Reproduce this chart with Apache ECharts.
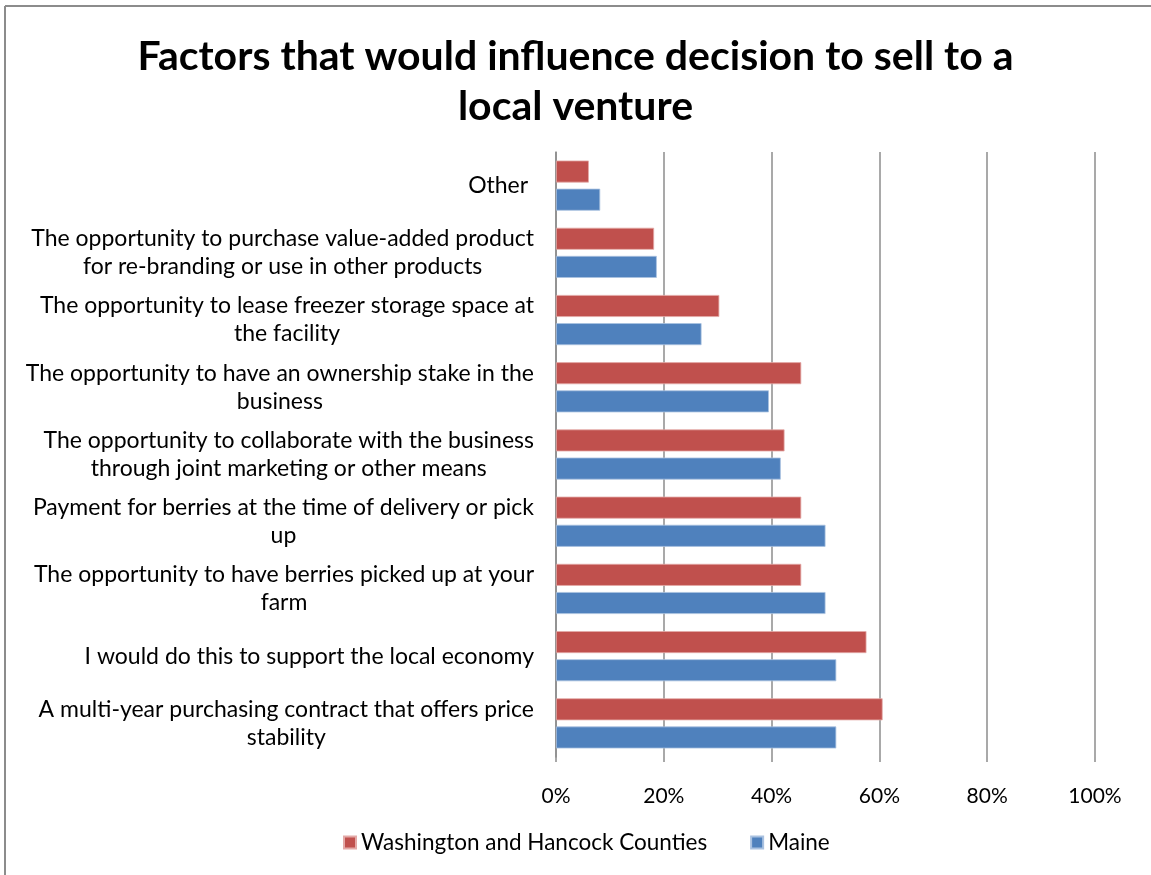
<!DOCTYPE html>
<html>
<head>
<meta charset="utf-8">
<script src="https://cdn.jsdelivr.net/npm/echarts@6/dist/echarts.min.js"></script>
<style>
  html, body { margin: 0; padding: 0; background: #ffffff; }
  #chart { width: 1151px; height: 875px; }
</style>
</head>
<body>
<div id="chart"></div>
<script>
// Survey answers, listed bottom to top as they appear on the category axis
const categories = [
  'A multi-year purchasing contract that offers price\nstability',
  'I would do this to support the local economy',
  'The opportunity to have berries picked up at your\nfarm',
  'Payment for berries at the time of delivery or pick\nup',
  'The opportunity to collaborate with the business\nthrough joint marketing or other means',
  'The opportunity to have an ownership stake in the\nbusiness',
  'The opportunity to lease freezer storage space at\nthe facility',
  'The opportunity to purchase value-added product\nfor re-branding or use in other products',
  'Other '
];

// Share of respondents (%) per region
const washingtonHancock = [60.6, 57.6, 45.5, 45.5, 42.4, 45.5, 30.3, 18.2, 6.1];
const maine = [52.0, 52.0, 50.0, 50.0, 41.7, 39.5, 27.0, 18.7, 8.2];

const seriesNames = ['Washington and Hancock Counties', 'Maine'];
const percentTicks = [0, 20, 40, 60, 80, 100];

const FONT = 'Lato';
const chart = echarts.init(document.getElementById('chart'), null, { renderer: 'canvas' });

chart.setOption({
  backgroundColor: '#ffffff',
  animation: false,
  title: {
    text: 'Factors that would influence decision to sell to a\nlocal venture',
    left: 'center',
    top: 27,
    textStyle: {
      fontFamily: FONT,
      fontWeight: 'bold',
      fontSize: 41,
      lineHeight: 50,
      color: '#000000'
    }
  },
  graphic: [
    { type: 'line', shape: { x1: 5, y1: 6, x2: 1151, y2: 6 }, style: { stroke: '#8c8c8c', lineWidth: 2 } },
    { type: 'line', shape: { x1: 5, y1: 6, x2: 5, y2: 875 }, style: { stroke: '#8c8c8c', lineWidth: 2 } }
  ],
  legend: {
    data: seriesNames,
    bottom: 16,
    left: 338,
    itemWidth: 12,
    itemHeight: 12,
    itemGap: 43,
    icon: 'rect',
    textStyle: { fontFamily: FONT, fontSize: 22.5, color: '#000000' }
  },
  grid: {
    left: 556,
    right: 56,
    top: 152,
    bottom: 118,
    containLabel: false
  },
  xAxis: {
    type: 'value',
    min: 0,
    max: 100,
    interval: 20,
    axisLine: { show: false },
    axisTick: { show: true, length: 5, lineStyle: { color: '#8c8c8c', width: 1.5 } },
    splitLine: { show: true, lineStyle: { color: '#8c8c8c', width: 1.5 } },
    axisLabel: {
      margin: 29,
      fontFamily: FONT,
      fontSize: 21,
      color: '#000000',
      formatter: v => percentTicks.includes(v) ? v + '%' : ''
    }
  },
  yAxis: {
    type: 'category',
    data: categories,
    axisLine: { show: true, lineStyle: { color: '#8c8c8c', width: 1.5 } },
    axisTick: { show: false },
    axisLabel: {
      margin: 22,
      interval: 0,
      align: 'right',
      formatter: v => v.split('\n').map(s => '{c|' + s + '}').join('\n'),
      rich: {
        c: {
          align: 'center',
          fontFamily: FONT,
          fontSize: 23,
          lineHeight: 28,
          color: '#000000'
        }
      }
    }
  },
  series: [
    {
      name: seriesNames[0],
      type: 'bar',
      data: washingtonHancock,
      barWidth: 22,
      barGap: '28%',
      itemStyle: { color: '#C0504D', borderColor: '#e3a9a7', borderWidth: 0.8 }
    },
    {
      name: seriesNames[1],
      type: 'bar',
      data: maine,
      barWidth: 22,
      barGap: '28%',
      itemStyle: { color: '#4F81BD', borderColor: '#a9c1e0', borderWidth: 0.8 }
    }
  ]
});
</script>
</body>
</html>
